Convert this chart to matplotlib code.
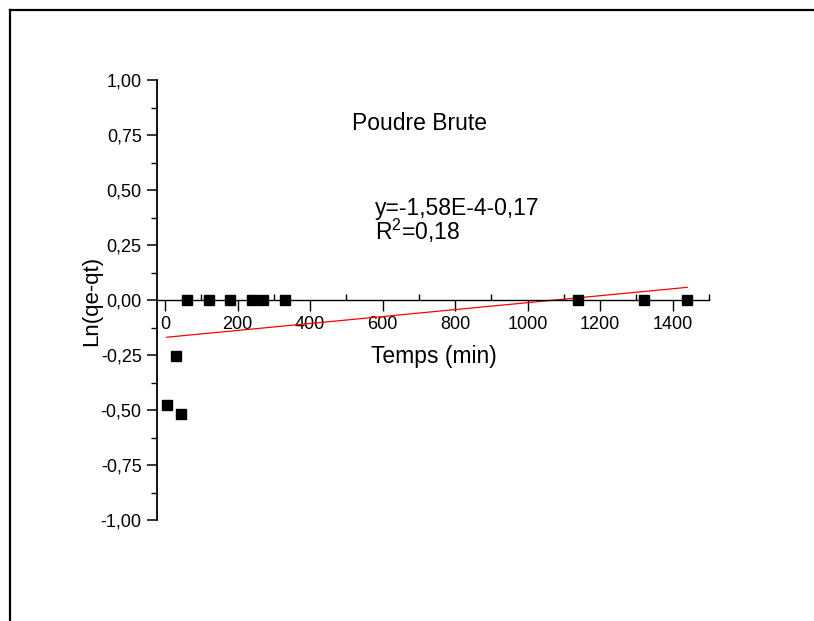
import numpy as np
import matplotlib
matplotlib.use("Agg")
import matplotlib.pyplot as plt
from matplotlib.lines import Line2D
from matplotlib.ticker import MultipleLocator, FuncFormatter

# Data
temps = [5, 30, 44, 60, 120, 180, 240, 270, 330, 1140, 1320, 1440]
ln_qe_qt = [-0.477, -0.255, -0.518, 0, 0, 0, 0, 0, 0, 0, 0, 0]
fit_slope = 1.58e-4
fit_intercept = -0.17
fit_x = [5, 1440]
x_ticks = [0, 200, 400, 600, 800, 1000, 1200, 1400]
y_ticks = [-1.0, -0.75, -0.5, -0.25, 0.0, 0.25, 0.5, 0.75, 1.0]

plt.rcParams['font.family'] = ['Liberation Sans', 'DejaVu Sans']
plt.rcParams['mathtext.fontset'] = 'custom'
plt.rcParams['mathtext.rm'] = 'Liberation Sans'
plt.rcParams['mathtext.it'] = 'Liberation Sans:italic'
plt.rcParams['mathtext.bf'] = 'Liberation Sans:bold'

W, H = 814, 621
fig = plt.figure(figsize=(W / 100, H / 100), dpi=100)
ax = fig.add_axes([157 / W, 1 - 520 / H, (709 - 157) / W, 440 / H])

ax.plot(temps, ln_qe_qt, 's', color='black', markersize=7, zorder=3)
fx = np.array(fit_x)
ax.plot(fx, fit_slope * fx + fit_intercept, color='red', linewidth=0.9, zorder=2)

ax.set_xlim(-22, 1500)
ax.set_ylim(-1.0, 1.0)

for s in ['top', 'right']:
    ax.spines[s].set_visible(False)
ax.spines['bottom'].set_position(('data', 0))
ax.spines['bottom'].set_linewidth(1.0)
ax.spines['left'].set_linewidth(1.3)

comma = FuncFormatter(lambda v, p: f"{v:.2f}".replace('.', ','))
ax.set_yticks(y_ticks)
ax.yaxis.set_major_formatter(comma)
ax.yaxis.set_minor_locator(MultipleLocator(0.125))
ax.set_xticks(x_ticks)
ax.xaxis.set_minor_locator(MultipleLocator(100))

ax.tick_params(axis='y', which='major', direction='out', length=7, width=1.1, labelsize=13, pad=4)
ax.tick_params(axis='y', which='minor', direction='out', length=4, width=1.0)
ax.tick_params(axis='x', which='major', direction='out', length=8, width=1.0, labelsize=13, pad=3.5)
ax.tick_params(axis='x', which='minor', direction='in', length=4, width=1.0)

fig.text(92 / W, 1 - 301 / H, 'Ln(qe-qt)', rotation=90, ha='center', va='center', fontsize=16)
fig.text(434 / W, 1 - 363 / H, 'Temps (min)', ha='center', va='baseline', fontsize=16.5)
fig.text(352 / W, 1 - 129.5 / H, 'Poudre Brute', ha='left', va='baseline', fontsize=16.5)
fig.text(375 / W, 1 - 214.5 / H, 'y=-1,58E-4-0,17', ha='left', va='baseline', fontsize=16.5)
fig.text(375 / W, 1 - 240 / H, r'R$^{\mathrm{2}}$=0,18', ha='left', va='baseline', fontsize=16.5)

fig.add_artist(Line2D([10 / W, 10 / W], [0, 1 - 10 / H], transform=fig.transFigure, color='black', linewidth=1.6))
fig.add_artist(Line2D([10 / W, 1], [1 - 10 / H, 1 - 10 / H], transform=fig.transFigure, color='black', linewidth=1.6))

fig.savefig('out.png', dpi=100)
